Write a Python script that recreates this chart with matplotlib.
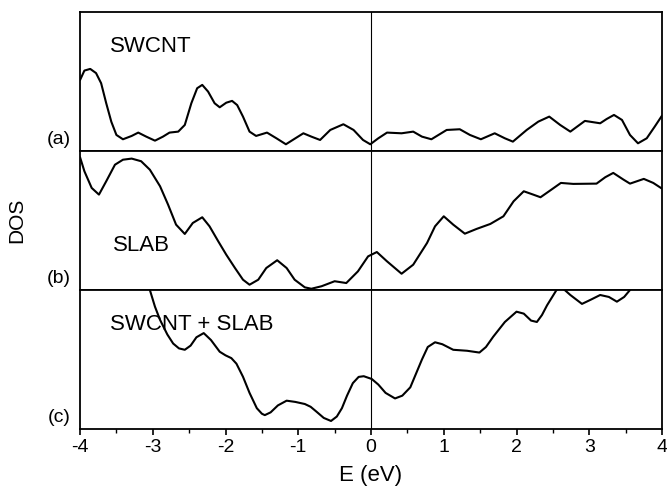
import matplotlib
matplotlib.use('Agg')
import matplotlib.pyplot as plt
from matplotlib.ticker import MultipleLocator

plt.rcParams['font.family'] = ['Liberation Sans', 'DejaVu Sans']
plt.rcParams['axes.unicode_minus'] = False

# (a) SWCNT
e_a = [-4.0, -3.94, -3.86, -3.78, -3.71, -3.64, -3.57, -3.50, -3.41, -3.29, -3.20, -3.09,
       -2.97, -2.86, -2.77, -2.65, -2.56, -2.47, -2.39, -2.32, -2.24, -2.15, -2.08, -1.99,
       -1.91, -1.84, -1.76, -1.67, -1.58, -1.43, -1.30, -1.17, -1.04, -0.93, -0.82, -0.70,
       -0.56, -0.38, -0.24, -0.11, -0.01, 0.10, 0.22, 0.42, 0.58, 0.70, 0.83, 1.04,
       1.22, 1.36, 1.51, 1.70, 1.84, 1.95, 2.14, 2.30, 2.45, 2.60, 2.74, 2.94,
       3.15, 3.24, 3.34, 3.45, 3.56, 3.67, 3.79, 3.90, 4.0]
dos_a = [0.51, 0.578, 0.59, 0.56, 0.487, 0.343, 0.21, 0.115, 0.084, 0.108, 0.132, 0.103,
         0.074, 0.103, 0.132, 0.139, 0.187, 0.343, 0.451, 0.475, 0.427, 0.343, 0.314, 0.347,
         0.36, 0.33, 0.247, 0.139, 0.108, 0.132, 0.091, 0.048, 0.091, 0.127, 0.103, 0.079,
         0.151, 0.192, 0.151, 0.079, 0.048, 0.091, 0.132, 0.127, 0.139, 0.103, 0.084, 0.151,
         0.156, 0.115, 0.084, 0.127, 0.091, 0.067, 0.151, 0.211, 0.247, 0.187, 0.139, 0.216,
         0.199, 0.23, 0.259, 0.223, 0.115, 0.055, 0.091, 0.175, 0.254]

# (b) SLAB
e_b = [-4.0, -3.94, -3.84, -3.74, -3.64, -3.52, -3.41, -3.29, -3.16, -3.04, -2.90, -2.79,
       -2.68, -2.56, -2.45, -2.32, -2.22, -2.10, -1.99, -1.87, -1.76, -1.67, -1.55, -1.44,
       -1.29, -1.16, -1.05, -0.91, -0.82, -0.68, -0.50, -0.34, -0.18, -0.04, 0.08, 0.22,
       0.42, 0.58, 0.77, 0.88, 1.0, 1.13, 1.29, 1.45, 1.64, 1.82, 1.96, 2.10,
       2.23, 2.33, 2.48, 2.61, 2.78, 3.10, 3.22, 3.33, 3.47, 3.56, 3.75, 3.88, 4.0]
dos_b = [0.955, 0.854, 0.734, 0.686, 0.782, 0.901, 0.937, 0.945, 0.926, 0.865, 0.746, 0.614,
         0.47, 0.403, 0.482, 0.523, 0.458, 0.35, 0.254, 0.158, 0.074, 0.038, 0.074, 0.158,
         0.214, 0.158, 0.074, 0.019, 0.009, 0.027, 0.063, 0.05, 0.134, 0.242, 0.273, 0.206,
         0.117, 0.182, 0.338, 0.458, 0.53, 0.47, 0.405, 0.439, 0.475, 0.53, 0.638, 0.71,
         0.686, 0.667, 0.722, 0.77, 0.763, 0.765, 0.811, 0.842, 0.794, 0.765, 0.799, 0.77, 0.729]

# (c) SWCNT + SLAB
e_c = [-3.2, -3.1, -3.04, -2.97, -2.90, -2.80, -2.72, -2.64, -2.56, -2.48, -2.40, -2.30,
       -2.20, -2.08, -2.0, -1.92, -1.85, -1.76, -1.67, -1.57, -1.50, -1.46, -1.38, -1.28,
       -1.16, -1.04, -0.91, -0.83, -0.75, -0.65, -0.55, -0.47, -0.40, -0.33, -0.25, -0.17,
       -0.10, 0.01, 0.10, 0.20, 0.33, 0.43, 0.54, 0.62, 0.70, 0.78, 0.88, 0.98,
       1.13, 1.32, 1.49, 1.58, 1.68, 1.84, 2.0, 2.10, 2.20, 2.28, 2.35, 2.42,
       2.55, 2.62, 2.74, 2.90, 3.02, 3.15, 3.27, 3.38, 3.48, 3.56, 3.8, 4.0]
dos_c = [1.3, 1.1, 1.0, 0.88, 0.785, 0.68, 0.615, 0.58, 0.57, 0.60, 0.66, 0.69,
         0.64, 0.556, 0.53, 0.51, 0.47, 0.376, 0.26, 0.15, 0.11, 0.10, 0.12, 0.17,
         0.204, 0.195, 0.18, 0.16, 0.125, 0.08, 0.058, 0.09, 0.15, 0.24, 0.33, 0.375,
         0.38, 0.36, 0.32, 0.26, 0.22, 0.24, 0.30, 0.40, 0.50, 0.59, 0.624, 0.61,
         0.57, 0.563, 0.55, 0.59, 0.664, 0.77, 0.844, 0.83, 0.78, 0.77, 0.82, 0.89,
         1.0, 1.02, 0.964, 0.90, 0.93, 0.964, 0.95, 0.916, 0.95, 1.0, 1.2, 1.35]

panels = [(e_a, dos_a, 'SWCNT', '(a)'),
          (e_b, dos_b, 'SLAB', '(b)'),
          (e_c, dos_c, 'SWCNT + SLAB', '(c)')]
title_pos = [(-3.59, 0.71), (-3.55, 0.28), (-3.59, 0.71)]

fig, axes = plt.subplots(3, 1, sharex=True, figsize=(6.67, 4.96), dpi=100,
                         gridspec_kw={'hspace': 0})
fig.subplots_adjust(left=0.12, right=0.9925, bottom=0.135, top=0.976)

for ax, (e, d, name, tag), (tx, ty) in zip(axes, panels, title_pos):
    ax.plot(e, d, color='black', lw=1.5, solid_joinstyle='round', solid_capstyle='round')
    ax.axvline(0, color='black', lw=0.8)
    ax.set_xlim(-4, 4)
    ax.set_ylim(0, 1)
    ax.set_yticks([])
    ax.text(tx, ty, name, fontsize=16)
    ax.text(-0.016, 0.02, tag, transform=ax.transAxes, ha='right', va='bottom', fontsize=14)
    for s in ax.spines.values():
        s.set_linewidth(1.3)
    ax.tick_params(axis='x', which='both', bottom=False, top=False)

axb = axes[-1]
axb.tick_params(axis='x', which='both', bottom=True, direction='out', labelsize=14)
axb.tick_params(axis='x', which='major', length=4, width=1.2)
axb.tick_params(axis='x', which='minor', length=3, width=1.0)
axb.xaxis.set_major_locator(MultipleLocator(1))
axb.xaxis.set_minor_locator(MultipleLocator(0.5))
axb.set_xlabel('E (eV)', fontsize=16, labelpad=6)

fig.text(0.025, 0.556, 'DOS', rotation=90, ha='center', va='center', fontsize=15)

fig.savefig('out.png', dpi=100)
